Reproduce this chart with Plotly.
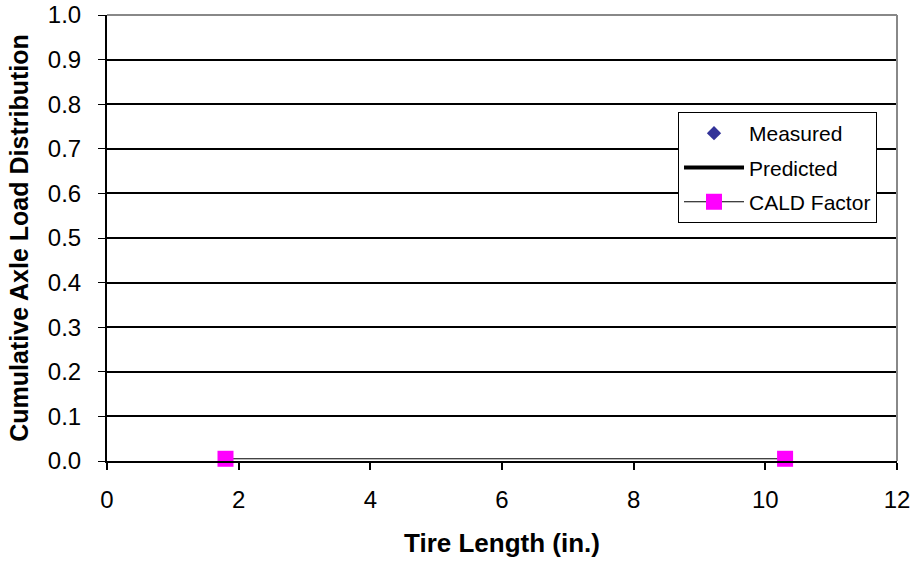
import plotly.graph_objects as go

# Data
measured_x = []
measured_y = []
predicted_x = []
predicted_y = []
cald_x = [1.8, 10.3]
cald_y = [0.005, 0.005]

x_ticks = [0, 2, 4, 6, 8, 10, 12]
y_ticks = [0.0, 0.1, 0.2, 0.3, 0.4, 0.5, 0.6, 0.7, 0.8, 0.9, 1.0]
y_tick_text = [f"{v:.1f}" for v in y_ticks]

fig = go.Figure()
fig.add_trace(go.Scatter(
    x=measured_x if measured_x else [None], y=measured_y if measured_y else [None],
    mode="markers", name="Measured", legendgroup="a",
    marker=dict(symbol="diamond", size=11, color="#333399"),
))
fig.add_trace(go.Scatter(
    x=predicted_x if predicted_x else [None], y=predicted_y if predicted_y else [None],
    mode="lines", name="Predicted", legendgroup="b",
    line=dict(color="black", width=4),
))
fig.add_trace(go.Scatter(
    x=cald_x, y=cald_y, mode="lines+markers", name="CALD Factor", legendgroup="c",
    line=dict(color="black", width=1),
    marker=dict(symbol="square", size=16, color="#FF00FF"),
    cliponaxis=False,
))

font = "Arial, Liberation Sans, sans-serif"
fig.update_layout(
    width=915, height=566,
    margin=dict(l=107, r=18, t=15, b=105, autoexpand=False),
    paper_bgcolor="white", plot_bgcolor="white",
    font=dict(family=font, color="black", size=24),
    showlegend=True,
    legend=dict(
        x=0.7228, y=0.7825, xanchor="left", yanchor="top",
        bgcolor="white", bordercolor="black", borderwidth=1,
        font=dict(size=21, family=font),
        traceorder="grouped", tracegroupgap=4, itemwidth=60,
    ),
    xaxis=dict(
        range=[0, 12], tickvals=x_ticks, showgrid=False, zeroline=False,
        showline=True, linecolor="black", linewidth=2,
        ticks="outside", ticklen=7, tickwidth=2, tickcolor="black",
        tickfont=dict(size=24), ticklabelstandoff=9,
        title=dict(text="<b>Tire Length (in.)</b>", font=dict(size=26), standoff=22),
    ),
    yaxis=dict(
        range=[0, 1.0], tickvals=y_ticks, ticktext=y_tick_text,
        showgrid=True, gridcolor="black", gridwidth=1.5, zeroline=False,
        showline=True, linecolor="black", linewidth=2,
        ticks="outside", ticklen=7, tickwidth=1, tickcolor="black",
        tickfont=dict(size=24), ticklabelstandoff=12,
        title=dict(text="<b>Cumulative Axle Load Distribution</b>", font=dict(size=25), standoff=12),
    ),
    shapes=[
        dict(type="line", xref="paper", yref="paper", x0=0, x1=1, y0=1, y1=1,
             line=dict(color="#888888", width=2), layer="above"),
        dict(type="line", xref="paper", yref="paper", x0=1, x1=1, y0=0, y1=1,
             line=dict(color="#888888", width=2), layer="above"),
    ],
)

fig.write_html("out.html")
